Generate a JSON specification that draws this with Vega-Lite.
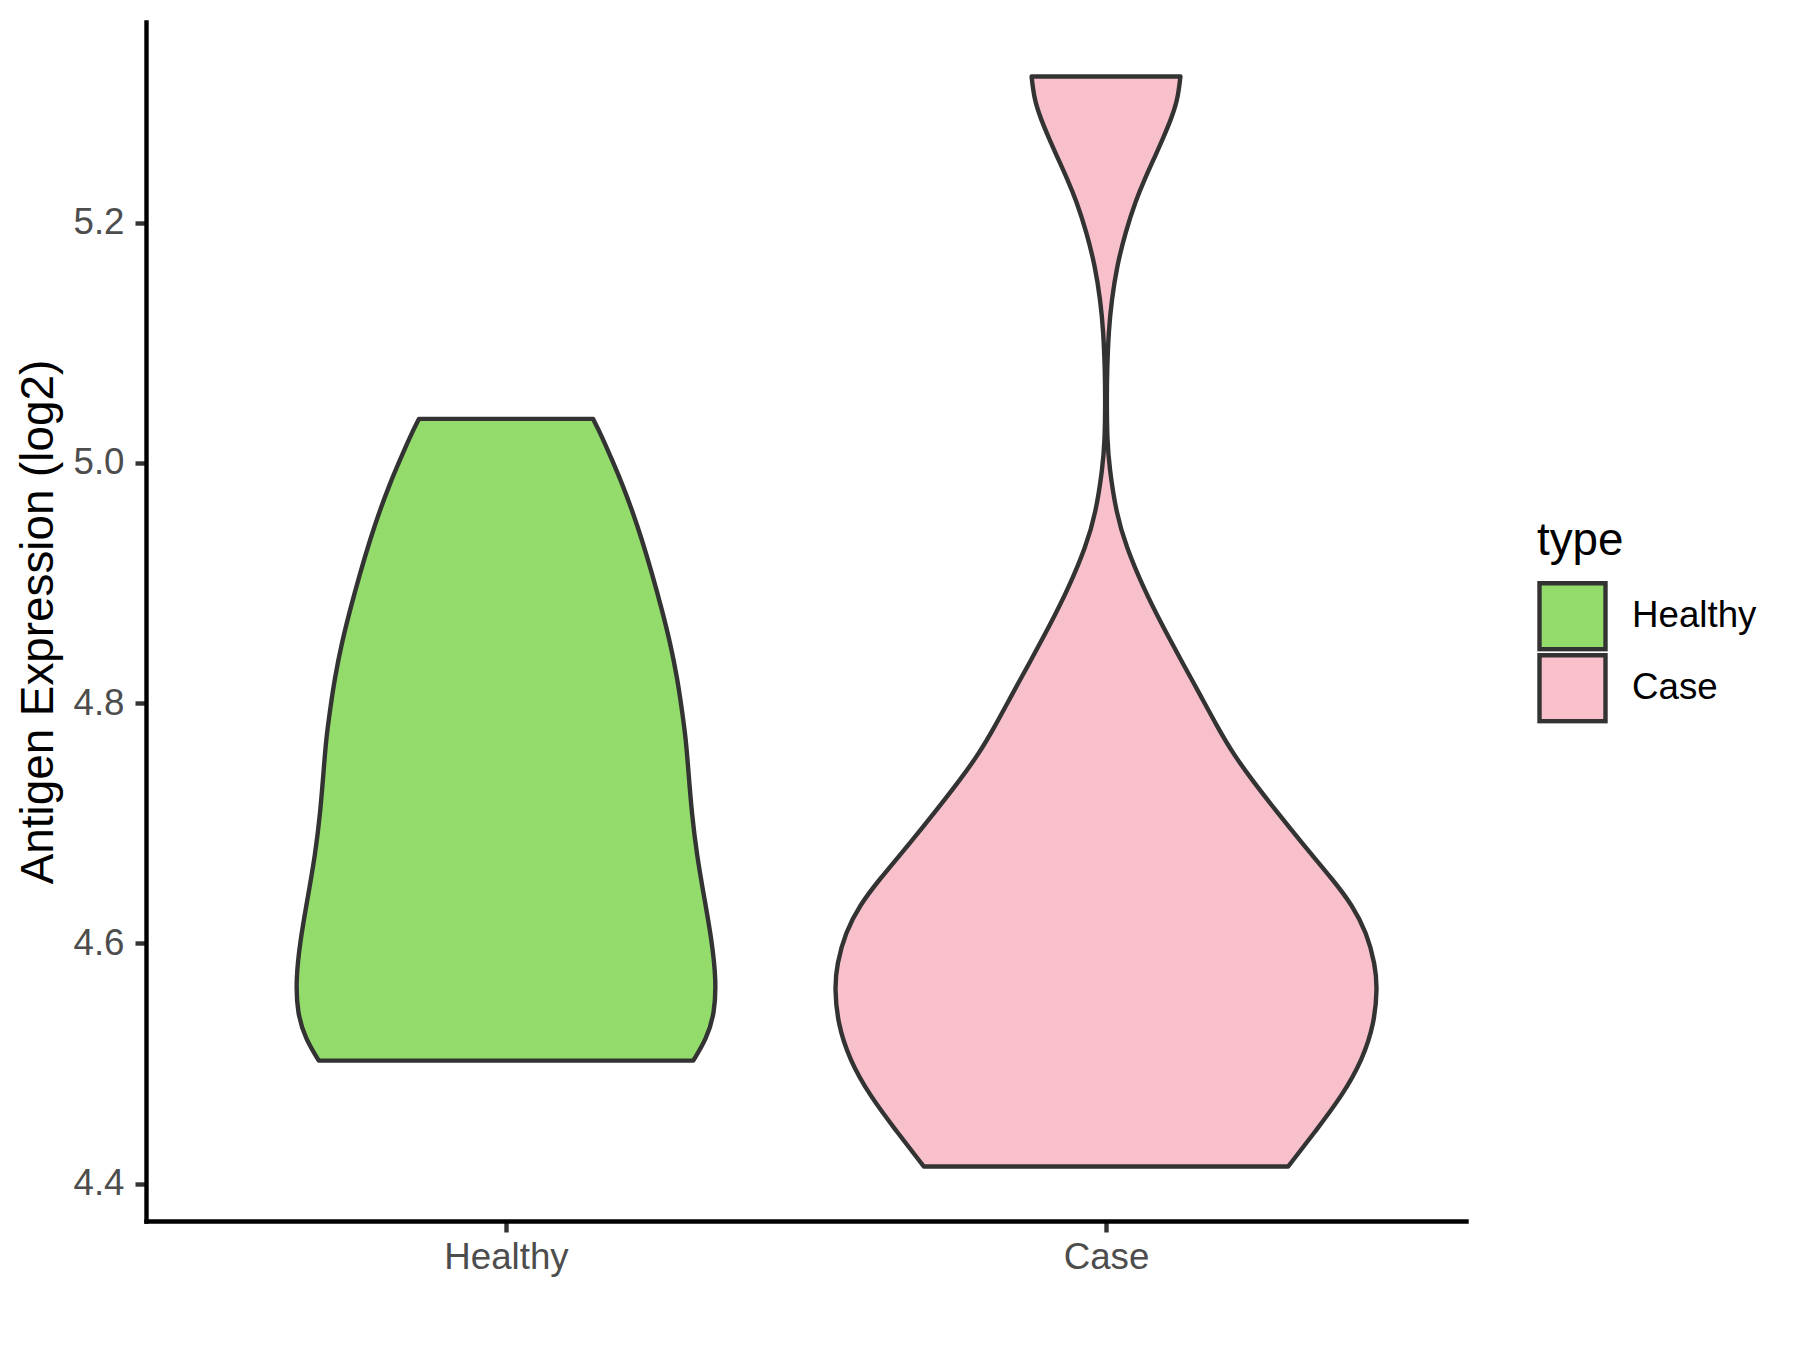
{
  "$schema": "https://vega.github.io/schema/vega-lite/v6.json",
  "width": 1320,
  "height": 1199,
  "autosize": {"type": "none"},
  "padding": {"left": 146, "top": 22, "right": 334, "bottom": 129},
  "background": "white",
  "config": {"view": {"stroke": null}, "font": "Liberation Sans"},
  "data": {
    "values": [
      {"type": "Healthy", "expr": 5.0366, "lo": 0.855, "hi": 1.145},
      {"type": "Healthy", "expr": 5.0218, "lo": 0.84, "hi": 1.16},
      {"type": "Healthy", "expr": 5.0024, "lo": 0.8233, "hi": 1.1767},
      {"type": "Healthy", "expr": 4.983, "lo": 0.8067, "hi": 1.1933},
      {"type": "Healthy", "expr": 4.9607, "lo": 0.79, "hi": 1.21},
      {"type": "Healthy", "expr": 4.9358, "lo": 0.7733, "hi": 1.2267},
      {"type": "Healthy", "expr": 4.908, "lo": 0.7567, "hi": 1.2433},
      {"type": "Healthy", "expr": 4.8775, "lo": 0.74, "hi": 1.26},
      {"type": "Healthy", "expr": 4.8498, "lo": 0.7262, "hi": 1.2738},
      {"type": "Healthy", "expr": 4.8219, "lo": 0.715, "hi": 1.285},
      {"type": "Healthy", "expr": 4.7942, "lo": 0.7067, "hi": 1.2933},
      {"type": "Healthy", "expr": 4.7692, "lo": 0.7, "hi": 1.3},
      {"type": "Healthy", "expr": 4.74, "lo": 0.6955, "hi": 1.3045},
      {"type": "Healthy", "expr": 4.7092, "lo": 0.6905, "hi": 1.3095},
      {"type": "Healthy", "expr": 4.6735, "lo": 0.682, "hi": 1.318},
      {"type": "Healthy", "expr": 4.6378, "lo": 0.6695, "hi": 1.3305},
      {"type": "Healthy", "expr": 4.6022, "lo": 0.657, "hi": 1.343},
      {"type": "Healthy", "expr": 4.57, "lo": 0.6498, "hi": 1.3502},
      {"type": "Healthy", "expr": 4.5416, "lo": 0.6522, "hi": 1.3478},
      {"type": "Healthy", "expr": 4.5202, "lo": 0.666, "hi": 1.334},
      {"type": "Healthy", "expr": 4.5023, "lo": 0.688, "hi": 1.312},
      {"type": "Case", "expr": 5.3216, "lo": 1.876, "hi": 2.124},
      {"type": "Case", "expr": 5.3022, "lo": 1.8805, "hi": 2.1195},
      {"type": "Case", "expr": 5.2855, "lo": 1.892, "hi": 2.108},
      {"type": "Case", "expr": 5.2689, "lo": 1.906, "hi": 2.094},
      {"type": "Case", "expr": 5.2522, "lo": 1.921, "hi": 2.079},
      {"type": "Case", "expr": 5.2356, "lo": 1.936, "hi": 2.064},
      {"type": "Case", "expr": 5.2189, "lo": 1.95, "hi": 2.05},
      {"type": "Case", "expr": 5.1914, "lo": 1.968, "hi": 2.032},
      {"type": "Case", "expr": 5.1631, "lo": 1.982, "hi": 2.018},
      {"type": "Case", "expr": 5.1356, "lo": 1.9905, "hi": 2.0095},
      {"type": "Case", "expr": 5.1106, "lo": 1.9955, "hi": 2.0045},
      {"type": "Case", "expr": 5.0773, "lo": 1.9982, "hi": 2.0018},
      {"type": "Case", "expr": 5.0524, "lo": 1.9988, "hi": 2.0012},
      {"type": "Case", "expr": 5.019, "lo": 1.998, "hi": 2.002},
      {"type": "Case", "expr": 4.9966, "lo": 1.9945, "hi": 2.0055},
      {"type": "Case", "expr": 4.958, "lo": 1.983, "hi": 2.017},
      {"type": "Case", "expr": 4.9302, "lo": 1.9663, "hi": 2.0337},
      {"type": "Case", "expr": 4.8969, "lo": 1.9387, "hi": 2.0613},
      {"type": "Case", "expr": 4.8636, "lo": 1.9053, "hi": 2.0947},
      {"type": "Case", "expr": 4.8331, "lo": 1.872, "hi": 2.128},
      {"type": "Case", "expr": 4.8081, "lo": 1.8445, "hi": 2.1555},
      {"type": "Case", "expr": 4.7803, "lo": 1.8145, "hi": 2.1855},
      {"type": "Case", "expr": 4.7581, "lo": 1.7885, "hi": 2.2115},
      {"type": "Case", "expr": 4.7359, "lo": 1.7565, "hi": 2.2435},
      {"type": "Case", "expr": 4.7109, "lo": 1.7175, "hi": 2.2825},
      {"type": "Case", "expr": 4.6832, "lo": 1.673, "hi": 2.327},
      {"type": "Case", "expr": 4.6518, "lo": 1.62, "hi": 2.38},
      {"type": "Case", "expr": 4.632, "lo": 1.59, "hi": 2.41},
      {"type": "Case", "expr": 4.6089, "lo": 1.5655, "hi": 2.4345},
      {"type": "Case", "expr": 4.5825, "lo": 1.5515, "hi": 2.4485},
      {"type": "Case", "expr": 4.5627, "lo": 1.5477, "hi": 2.4523},
      {"type": "Case", "expr": 4.533, "lo": 1.553, "hi": 2.447},
      {"type": "Case", "expr": 4.5032, "lo": 1.5725, "hi": 2.4275},
      {"type": "Case", "expr": 4.4736, "lo": 1.6058, "hi": 2.3942},
      {"type": "Case", "expr": 4.4439, "lo": 1.6503, "hi": 2.3497},
      {"type": "Case", "expr": 4.4142, "lo": 1.6963, "hi": 2.3037}
    ]
  },
  "mark": {
    "type": "area",
    "orient": "horizontal",
    "interpolate": "basis",
    "stroke": "#333333",
    "strokeWidth": 4.4,
    "strokeJoin": "round",
    "opacity": 1
  },
  "encoding": {
    "y": {
      "field": "expr",
      "type": "quantitative",
      "scale": {"domain": [4.3688, 5.367], "nice": false, "zero": false},
      "axis": {
        "values": [4.4, 4.6, 4.8, 5.0, 5.2],
        "format": ".1f",
        "title": "Antigen Expression (log2)",
        "titleFont": "Liberation Sans",
        "titleFontSize": 45.8,
        "titleFontWeight": "normal",
        "titleColor": "black",
        "titlePadding": 10,
        "grid": false,
        "domainColor": "black",
        "domainWidth": 4.4,
        "domainCap": "square",
        "tickColor": "#333333",
        "tickWidth": 4.4,
        "tickSize": 11,
        "labelFont": "Liberation Sans",
        "labelFontSize": 36.7,
        "labelColor": "#4D4D4D",
        "labelPadding": 11
      }
    },
    "x": {
      "field": "lo",
      "type": "quantitative",
      "stack": null,
      "scale": {"domain": [0.4, 2.6], "nice": false, "zero": false},
      "axis": {
        "values": [1, 2],
        "labelExpr": "datum.value == 1 ? 'Healthy' : 'Case'",
        "title": null,
        "grid": false,
        "domainColor": "black",
        "domainWidth": 4.4,
        "domainCap": "square",
        "tickColor": "#333333",
        "tickWidth": 4.4,
        "tickSize": 11,
        "labelFont": "Liberation Sans",
        "labelFontSize": 36.7,
        "labelColor": "#4D4D4D",
        "labelPadding": 7
      }
    },
    "x2": {"field": "hi"},
    "color": {
      "field": "type",
      "type": "nominal",
      "scale": {"domain": ["Healthy", "Case"], "range": ["#93DB6B", "#F8C0CB"]},
      "legend": {
        "title": "type",
        "orient": "none",
        "legendX": 1391,
        "legendY": 497,
        "padding": 0,
        "titleFont": "Liberation Sans",
        "titleFontSize": 45.8,
        "titleFontWeight": "normal",
        "titleColor": "black",
        "titlePadding": 16,
        "symbolType": "square",
        "symbolSize": 4356,
        "symbolStrokeColor": "#333333",
        "symbolStrokeWidth": 4.4,
        "symbolOpacity": 1,
        "labelFont": "Liberation Sans",
        "labelFontSize": 36.7,
        "labelColor": "black",
        "labelOffset": 24,
        "clipHeight": 71,
        "rowPadding": 1
      }
    }
  }
}
